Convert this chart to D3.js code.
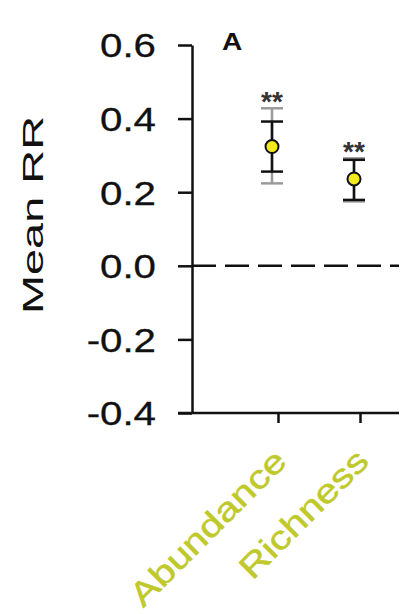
<!DOCTYPE html>
<html>
<head>
<meta charset="utf-8">
<script src="https://cdn.jsdelivr.net/npm/d3@7"></script>
<style>
  body { margin: 0; background: #fff; }
  text { font-family: "Liberation Sans", Arial, sans-serif; }
</style>
</head>
<body>
<div class="chart"></div>
<script>
// values
const categories = ["Abundance", "Richness"];
const means = [0.324, 0.236];
const ciLow = [0.256, 0.179];
const ciHigh = [0.392, 0.288];
const ciLowOuter = [0.224, 0.175];
const ciHighOuter = [0.428, 0.292];
const stars = ["**", "**"];
const yTicks = [-0.4, -0.2, 0.0, 0.2, 0.4, 0.6];

const width = 408, height = 614;
const margin = {top: 45, left: 192, right: 9, bottom: 201};
const stretch = 1.22; // the figure's font is wider than Arial

const svg = d3.select(".chart")
    .append("svg")
    .attr("width", width)
    .attr("height", height);

const yScale = d3.scaleLinear()
    .domain([-0.4, 0.6])
    .range([height - margin.bottom, margin.top]);

const xScale = d3.scalePoint()
    .domain(categories)
    .range([278, 360]);
const pointShift = -6;

const data = categories.map((c, i) => ({
    cat: c, mean: means[i], lo: ciLow[i], hi: ciHigh[i],
    lo2: ciLowOuter[i], hi2: ciHighOuter[i], star: stars[i]
}));

// zero reference line
svg.append("line")
    .attr("x1", margin.left)
    .attr("x2", width - margin.right)
    .attr("y1", yScale(0))
    .attr("y2", yScale(0))
    .attr("stroke", "#111")
    .attr("stroke-width", 2.5)
    .attr("stroke-dasharray", "24,9");

// y axis
const yAxis = d3.axisLeft(yScale)
    .tickValues(yTicks)
    .tickSize(14)
    .tickSizeOuter(0)
    .tickFormat(d => d3.format(".1f")(d).replace("\u2212", "-"));

const yAxGr = svg.append("g")
    .attr("transform", `translate(${margin.left},0)`)
    .call(yAxis);
yAxGr.selectAll("path, line").attr("stroke", "#111").attr("stroke-width", 2.5);
yAxGr.selectAll("text")
    .attr("x", 0)
    .attr("dy", "0.36em")
    .attr("transform", `translate(-36,0) scale(${stretch},1)`)
    .attr("fill", "#111")
    .attr("stroke", "#111")
    .attr("stroke-width", 0.3)
    .style("font-size", "33px");

// x axis
const xAxis = d3.axisBottom(xScale)
    .tickSize(10)
    .tickSizeOuter(0);

const xAxGr = svg.append("g")
    .attr("transform", `translate(0,${yScale.range()[0]})`)
    .call(xAxis);
xAxGr.select(".domain").remove();
xAxGr.append("line")
    .attr("x1", margin.left - 14)
    .attr("x2", width - margin.right)
    .attr("stroke", "#111")
    .attr("stroke-width", 2.5);
xAxGr.selectAll(".tick line").attr("stroke", "#111").attr("stroke-width", 2.5);
xAxGr.selectAll(".tick text")
    .attr("y", 0)
    .attr("dy", 0)
    .attr("text-anchor", "end")
    .attr("transform", `translate(10,50) rotate(-45) scale(1.23,1)`)
    .attr("fill", "#bfc92c")
    .attr("stroke", "#bfc92c")
    .attr("stroke-width", 0.5)
    .style("font-size", "33px");

// y label
svg.append("text")
    .attr("transform", `translate(43,215) rotate(-90)`)
    .attr("text-anchor", "middle")
    .attr("textLength", 198)
    .attr("lengthAdjust", "spacingAndGlyphs")
    .attr("fill", "#111")
    .style("font-size", "30px")
    .text("Mean RR");

// panel letter
svg.append("text")
    .attr("transform", `translate(222,50) scale(${stretch},1)`)
    .attr("fill", "#111")
    .style("font-size", "23px")
    .style("font-weight", "bold")
    .text("A");

const gr = svg.append("g");
const capW = 11;

const pts = gr.selectAll(".pt")
    .data(data)
    .join("g")
    .attr("class", "pt")
    .attr("transform", d => `translate(${xScale(d.cat) + pointShift},0)`);

// outer interval (grey)
pts.append("line")
    .attr("y1", d => yScale(d.lo2)).attr("y2", d => yScale(d.hi2))
    .attr("stroke", "#9a9a9a").attr("stroke-width", 2.5);
pts.selectAll(".cap2")
    .data(d => [d.lo2, d.hi2])
    .join("line")
    .attr("x1", -capW).attr("x2", capW)
    .attr("y1", v => yScale(v)).attr("y2", v => yScale(v))
    .attr("stroke", "#9a9a9a").attr("stroke-width", 2.5);

// inner interval (black)
pts.append("line")
    .attr("y1", d => yScale(d.lo)).attr("y2", d => yScale(d.hi))
    .attr("stroke", "#111").attr("stroke-width", 2.5);
pts.selectAll(".cap")
    .data(d => [d.lo, d.hi])
    .join("line")
    .attr("x1", -capW).attr("x2", capW)
    .attr("y1", v => yScale(v)).attr("y2", v => yScale(v))
    .attr("stroke", "#111").attr("stroke-width", 2.5);

pts.append("circle")
    .attr("cy", d => yScale(d.mean))
    .attr("r", 6.5)
    .attr("fill", "#f3ea1c")
    .attr("stroke", "#111")
    .attr("stroke-width", 2);

pts.append("text")
    .attr("y", d => yScale(d.hi2) + 3)
    .attr("text-anchor", "middle")
    .attr("fill", "#333")
    .style("font-size", "28px")
    .style("font-weight", "bold")
    .text(d => d.star);
</script>
</body>
</html>
